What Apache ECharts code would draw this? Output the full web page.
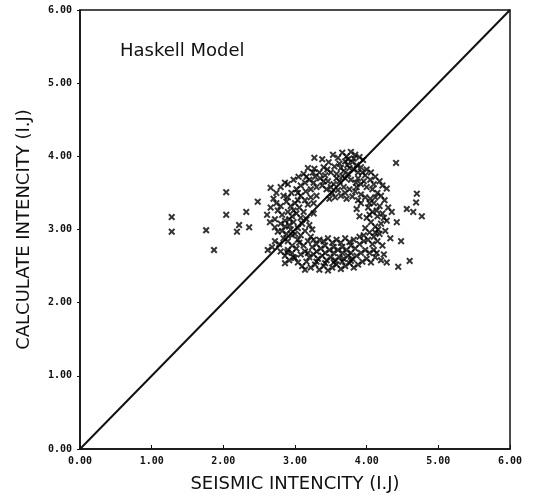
<!DOCTYPE html>
<html>
<head>
<meta charset="utf-8">
<script src="https://cdn.jsdelivr.net/npm/echarts@6/dist/echarts.min.js"></script>
<style>html,body{margin:0;padding:0;background:#fff}#c{width:536px;height:500px}</style>
</head>
<body>
<div id="c"></div>
<script>
var chartTitle = 'Haskell Model';
var xAxisName = 'SEISMIC INTENCITY (I.J)';
var yAxisName = 'CALCULATE INTENCITY (I.J)';
var axisMin = 0, axisMax = 6, axisStep = 1;
var tickLabels = ['0.00','1.00','2.00','3.00','4.00','5.00','6.00'];
var diagonalLine = [[0,0],[6,6]];

var outliers = [
[1.28,3.17],[1.28,2.97],[1.76,2.99],[1.87,2.72],[2.04,3.51],[2.04,3.20],[2.32,3.24],[2.22,3.06],
[2.36,3.03],[2.19,2.97],[2.48,3.38],[2.66,3.57],[2.86,3.64],
[4.41,3.91],[4.70,3.49],[4.69,3.37],[4.56,3.28],[4.65,3.24],[4.77,3.18],[4.42,3.10],[4.48,2.84],
[4.60,2.57],[4.44,2.49]
];
var topBand = [
[3.27,3.98],[3.38,3.96],[3.53,4.02],[3.60,3.98],[3.66,4.05],[3.72,4.00],[3.78,4.06],[3.84,4.02],
[3.90,3.99],[3.95,3.95],[3.70,3.93],[3.62,3.90],[3.55,3.86],[3.47,3.92],[3.40,3.85],[3.27,3.83],
[3.25,3.78],[3.18,3.84],[3.12,3.76],[3.05,3.72],[2.98,3.68],[2.90,3.62],[2.80,3.58],[2.74,3.50],
[3.80,3.92],[3.86,3.88],[3.92,3.85],[4.00,3.82],[4.06,3.78],[4.12,3.72],[4.18,3.66],[4.22,3.60],
[4.28,3.56],[4.05,3.68],[3.98,3.74],[3.88,3.78],[3.76,3.84],[3.68,3.80],[3.58,3.76],[3.50,3.78],
[3.42,3.74],[3.35,3.70],[3.28,3.72],[3.20,3.68],[3.14,3.64],[3.08,3.60],[3.02,3.55],[2.95,3.50],
[3.46,3.66],[3.54,3.62],[3.62,3.66],[3.70,3.70],[3.78,3.68],[3.85,3.64],[3.92,3.62],[4.00,3.58],
[4.08,3.55],[4.15,3.50],[3.38,3.60],[3.30,3.58],[3.22,3.55],[3.15,3.52],[3.08,3.46],[3.04,3.50],
[2.90,3.44],[3.44,3.55],[3.52,3.50],[3.60,3.54],[3.68,3.58],[3.76,3.55],[3.84,3.52],[3.92,3.48],
[3.98,3.44],[4.05,3.42],[3.56,3.44],[3.64,3.46],[3.72,3.42],[3.80,3.45],[3.48,3.42],[3.88,3.40],
[3.30,3.46],[3.22,3.44],
[3.74,3.96],[3.82,3.97],[3.64,3.84],[3.73,3.88],[3.82,3.82],[3.94,3.78],[3.58,3.70],[3.66,3.73],
[3.74,3.76],[3.88,3.70],[3.96,3.66],[4.10,3.62],[3.34,3.78],[3.45,3.82],[3.16,3.72],[3.40,3.66],
[3.26,3.64],[3.50,3.58],[3.86,3.58],[3.70,3.50]
];
var rightBand = [
[4.10,3.36],[4.18,3.32],[4.25,3.40],[4.30,3.30],[4.35,3.24],[4.02,3.30],[4.08,3.24],[4.15,3.18],
[4.22,3.22],[4.00,3.16],[4.06,3.10],[4.12,3.04],[4.20,3.08],[4.28,3.12],[3.98,3.02],[4.04,2.96],
[4.10,2.90],[4.18,2.94],[4.26,2.98],[4.02,2.86],[4.08,2.80],[4.15,2.84],[4.22,2.78],[4.33,2.88],
[3.96,2.92],[3.86,3.28],[3.90,3.18],[3.92,3.36],
[4.12,3.44],[4.20,3.46],[4.04,3.36],[4.14,3.26],[4.24,3.16],[4.04,3.20],[4.16,3.00],[4.12,2.96]
];
var bottomBand = [
[2.80,2.70],[2.86,2.64],[2.92,2.58],[2.98,2.62],[3.04,2.55],[3.10,2.50],[3.14,2.45],[3.16,2.56],
[3.22,2.48],[3.28,2.52],[3.34,2.45],[3.40,2.50],[3.46,2.44],[3.52,2.48],[3.58,2.52],[3.64,2.46],
[3.70,2.50],[3.76,2.54],[3.82,2.48],[3.88,2.52],[3.94,2.56],[4.00,2.60],[4.06,2.55],[4.12,2.62],
[4.20,2.58],[4.28,2.55],[2.90,2.72],[2.96,2.68],[3.02,2.74],[3.08,2.66],[3.14,2.70],[3.20,2.62],
[3.26,2.66],[3.32,2.60],[3.38,2.64],[3.44,2.58],[3.50,2.62],[3.56,2.58],[3.62,2.62],[3.68,2.60],
[3.74,2.64],[3.80,2.60],[3.86,2.64],[3.92,2.68],[3.98,2.72],[4.04,2.68],[4.10,2.72],[3.06,2.82],
[3.12,2.78],[3.18,2.84],[3.24,2.76],[3.30,2.80],[3.36,2.74],[3.42,2.78],[3.48,2.72],[3.54,2.76],
[3.60,2.72],[3.66,2.76],[3.72,2.72],[3.78,2.78],[3.84,2.74],[3.90,2.80],[3.96,2.84],[3.34,2.86],
[3.46,2.88],[3.58,2.86],[3.70,2.88],[3.82,2.86],[3.22,2.90],[3.90,2.90],[4.14,2.68],[4.24,2.66],
[2.86,2.54],[3.00,2.61],[2.89,2.69],
[3.18,2.68],[3.30,2.70],[3.42,2.68],[3.54,2.68],[3.66,2.68],[3.78,2.68],[3.30,2.56],[3.42,2.54],
[3.54,2.55],[3.66,2.56],[3.78,2.57],[3.26,2.86],[3.40,2.84],[3.52,2.82],[3.64,2.82],[3.76,2.83]
];
var leftBand = [
[2.62,2.72],[2.68,2.76],[2.72,2.84],[2.78,2.80],[2.84,2.88],[2.90,2.84],[2.76,2.97],[2.82,2.98],
[2.88,2.94],[2.94,3.00],[2.72,3.03],[2.65,3.10],[2.72,3.14],[2.80,3.08],[2.86,3.12],[2.92,3.06],
[2.98,3.10],[2.61,3.20],[2.76,3.26],[2.82,3.20],[2.90,3.24],[2.96,3.18],[3.02,3.22],[2.74,3.36],
[2.80,3.32],[2.88,3.38],[2.94,3.32],[3.00,3.36],[3.06,3.30],[2.66,3.30],[2.70,3.42],[2.84,3.46],
[3.04,3.02],[3.10,3.08],[3.00,2.94],[3.08,2.92],[3.14,2.98],[3.16,3.14],[3.12,3.24],[3.20,3.06],
[3.04,2.86],[2.96,2.78],[3.18,3.34],[3.26,3.36],[3.14,3.40],[3.24,3.00],[3.26,3.22],
[2.86,3.04],[2.92,3.14],[2.98,3.26],[3.08,3.16],[3.04,3.40],[2.96,2.92]
];

var scatterData = outliers.concat(topBand, rightBand, bottomBand, leftBand);
var crossPath = 'path://M0,2L2,0L5,3L8,0L10,2L7,5L10,8L8,10L5,7L2,10L0,8L3,5Z';

var chart = echarts.init(document.getElementById('c'), null, {renderer:'canvas'});
var labelStyle = {color:'#111', fontFamily:'DejaVu Sans Mono', fontWeight:'bold', fontSize:10,
  formatter:function(v){ return tickLabels[Math.round((v-axisMin)/axisStep)] || ''; }};
chart.setOption({
  animation:false,
  backgroundColor:'#fff',
  title:{text:chartTitle, left:115, top:37, textStyle:{fontFamily:'DejaVu Sans', fontSize:18, fontWeight:'normal', color:'#111'}},
  grid:{left:80, right:26, top:10, bottom:51, show:true, borderColor:'#111', borderWidth:1.5},
  xAxis:{type:'value', min:axisMin, max:axisMax, interval:axisStep,
    name:xAxisName, nameLocation:'middle', nameGap:26,
    nameTextStyle:{fontFamily:'DejaVu Sans', fontSize:18, color:'#111'},
    axisLine:{lineStyle:{color:'#111', width:1.5}},
    axisTick:{inside:true, length:4, lineStyle:{color:'#111'}},
    axisLabel:Object.assign({margin:7}, labelStyle),
    splitLine:{show:false}},
  yAxis:{type:'value', min:axisMin, max:axisMax, interval:axisStep,
    name:yAxisName, nameLocation:'middle', nameGap:47,
    nameTextStyle:{fontFamily:'DejaVu Sans', fontSize:18, color:'#111'},
    axisLine:{lineStyle:{color:'#111', width:1.5}},
    axisTick:{inside:false, length:3, lineStyle:{color:'#111'}},
    axisLabel:Object.assign({margin:8}, labelStyle),
    splitLine:{show:false}},
  series:[
    {type:'line', data:diagonalLine, symbol:'none', lineStyle:{color:'#111', width:2}, z:3},
    {type:'scatter', data:scatterData, symbol:crossPath, symbolSize:7, itemStyle:{color:'#000'}, z:4}
  ]
});
</script>
</body>
</html>
